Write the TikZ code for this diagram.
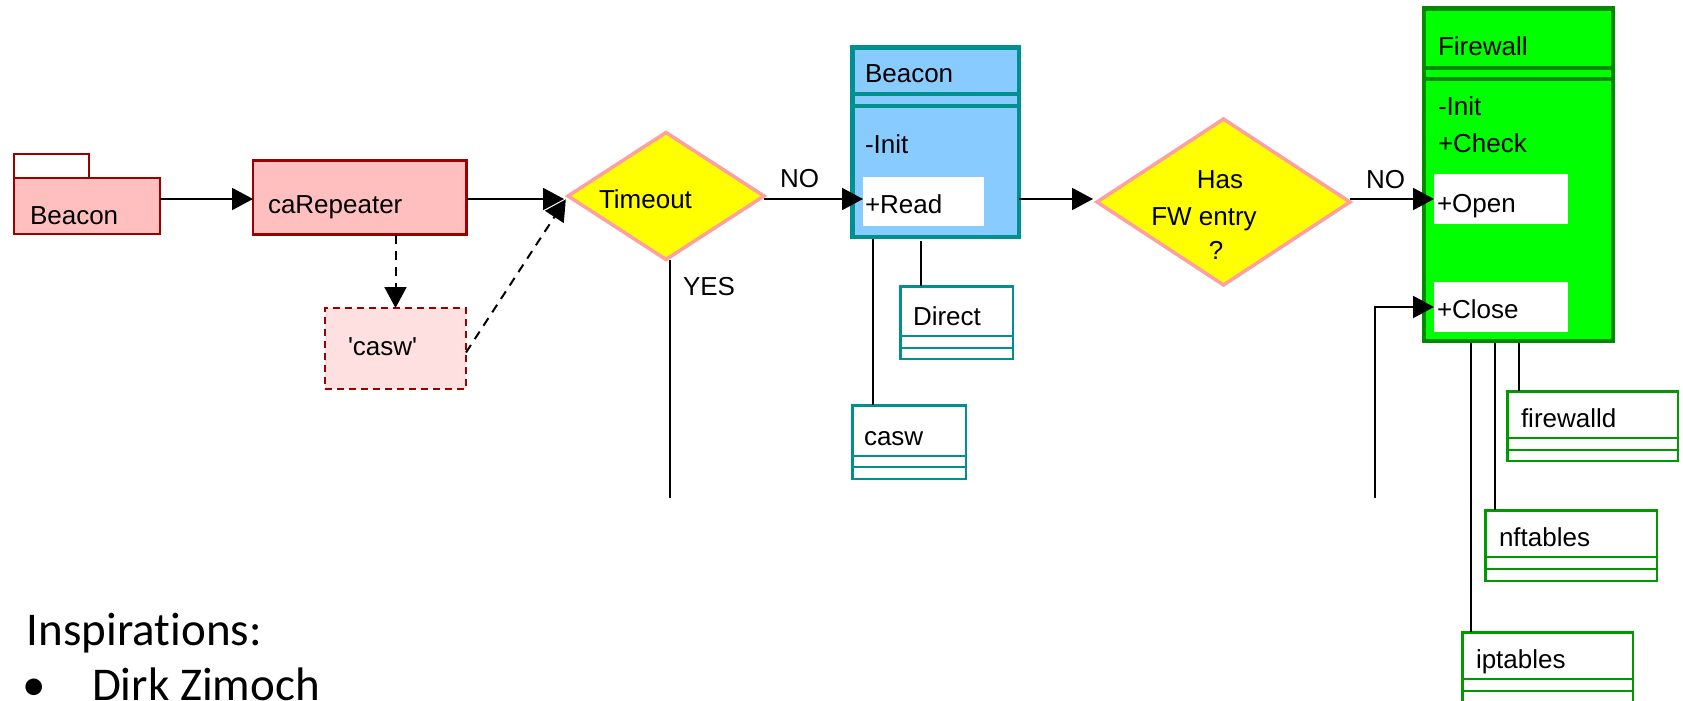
\documentclass[tikz,border=0pt]{standalone}
\usepackage{fontspec}
\setmainfont{Liberation Sans}[Ligatures=TeXOff]
\newfontfamily\calibrifont{Carlito}[Ligatures=NoCommon]
\usetikzlibrary{arrows.meta,shapes.geometric,calc}

\definecolor{pkgline}{HTML}{9B0000}
\definecolor{pkgfill}{HTML}{FFBFBF}
\definecolor{notefill}{HTML}{FFE0E0}
\definecolor{decline}{HTML}{FFA0A0}
\definecolor{decfill}{HTML}{FFFF00}
\definecolor{bluefill}{HTML}{88CCFF}
\definecolor{tealline}{HTML}{009090}
\definecolor{greenfill}{HTML}{00FF00}
\definecolor{greenline}{HTML}{008A00}
\definecolor{subgreen}{HTML}{009A00}

\begin{document}
\begin{tikzpicture}[x=1pt,y=-1pt,
  every node/.style={inner sep=0pt, outer sep=0pt},
  lbl/.style={anchor=base west, font=\fontsize{26}{31}\selectfont},
  clbl/.style={anchor=base, font=\fontsize{26}{31}\selectfont},
  boxnw/.style={rectangle, anchor=north west},
  pinkbox/.style={boxnw, draw=pkgline, fill=pkgfill, line width=2.2pt},
  notebox/.style={boxnw, draw=pkgline, fill=notefill, line width=2.2pt, dash pattern=on 7pt off 5pt},
  decision/.style={diamond, draw=decline, fill=decfill, line width=3.5pt},
  bigclass/.style={boxnw, line width=4.5pt},
  member/.style={boxnw, fill=white},
  subclass/.style={boxnw, fill=white, line width=2.5pt},
  link/.style={draw=black, line width=2pt},
  arr/.style={link, -{Triangle[length=21pt,width=22pt]}},
  dasharr/.style={arr, dash pattern=on 9pt off 7pt},
]
\useasboundingbox (0,0) rectangle (1683,701);

% ---------- package and repeater ----------
\node[pinkbox, fill=white, minimum width=75pt, minimum height=24pt] (pkgtab) at (14,154) {};
\node[pinkbox, minimum width=146pt, minimum height=56pt] (pkg) at (14,178) {};
\node[lbl] (pkg-t) at (30,224) {Beacon};

\node[pinkbox, minimum width=213.5pt, minimum height=74pt] (rep) at (253,160.5) {};
\node[lbl] (rep-t) at (268,213) {caRepeater};

\node[notebox, minimum width=141pt, minimum height=81pt] (caswq) at (325,308) {};
\node[lbl] (caswq-t) at (348,355) {'casw'};

% ---------- first decision ----------
\node[decision, minimum width=196pt, minimum height=127pt] (tmo) at (666,196) {};
\node[lbl] (tmo-t) at (599,208) {Timeout};

% ---------- Beacon class ----------
\node[bigclass, draw=tealline, fill=bluefill, minimum width=166.5pt, minimum height=189.5pt] (bcls) at (852.3,47.3) {};
\draw[tealline, line width=4pt] ($(bcls.north west)+(0,46.4)$) -- ($(bcls.north east)+(0,46.4)$);
\draw[tealline, line width=4pt] ($(bcls.north west)+(0,58.7)$) -- ($(bcls.north east)+(0,58.7)$);
\node[lbl] (bcls-t) at (865,82) {Beacon};
\node[lbl] (bcls-init) at (865,153) {-Init};
\node[member, minimum width=121pt, minimum height=49pt] (read) at (863,177) {};
\node[lbl] (read-t) at (865,213) {+Read};

\node[subclass, draw=tealline, minimum width=112.5pt, minimum height=72.5pt] (direct) at (900.3,286.3) {};
\draw[tealline, line width=2.5pt] ($(direct.north west)+(0,49.7)$) -- ($(direct.north east)+(0,49.7)$);
\draw[tealline, line width=2.5pt] ($(direct.north west)+(0,61.7)$) -- ($(direct.north east)+(0,61.7)$);
\node[lbl] (direct-t) at (913,325) {Direct};

\node[subclass, draw=tealline, minimum width=113.5pt, minimum height=73.5pt] (casw) at (852.3,405.3) {};
\draw[tealline, line width=2.5pt] ($(casw.north west)+(0,50.7)$) -- ($(casw.north east)+(0,50.7)$);
\draw[tealline, line width=2.5pt] ($(casw.north west)+(0,61.7)$) -- ($(casw.north east)+(0,61.7)$);
\node[lbl] (casw-t) at (864,445) {casw};

% ---------- second decision ----------
\node[decision, minimum width=253pt, minimum height=166pt] (has) at (1223.5,202) {};
\node[clbl] (has-t1) at (1220,188) {Has};
\node[clbl] (has-t2) at (1204,225) {FW entry};
\node[clbl] (has-t3) at (1216,259) {?};

% ---------- Firewall class ----------
\node[bigclass, draw=greenline, fill=greenfill, minimum width=189.4pt, minimum height=332.5pt] (fw) at (1423.8,8.3) {};
\draw[greenline, line width=4pt] ($(fw.north west)+(-2,59.4)$) -- ($(fw.north east)+(0,59.4)$);
\draw[greenline, line width=4pt] ($(fw.north west)+(0,71)$) -- ($(fw.north east)+(0,71)$);
\node[lbl] (fw-t) at (1438,56) {Firewall};
\node[lbl] (fw-init) at (1438,115) {-Init};
\node[lbl] (fw-check) at (1438,152) {+Check};
\node[member, minimum width=134pt, minimum height=50pt] (open) at (1434,174) {};
\node[lbl] (open-t) at (1437,212) {+Open};
\node[member, minimum width=134pt, minimum height=50pt] (close) at (1434,282) {};
\node[lbl] (close-t) at (1437,318) {+Close};

\node[subclass, draw=subgreen, minimum width=170.5pt, minimum height=69.5pt] (fwd) at (1507.3,391.3) {};
\draw[subgreen, line width=2.5pt] ($(fwd.north west)+(0,46.7)$) -- ($(fwd.north east)+(0,46.7)$);
\draw[subgreen, line width=2.5pt] ($(fwd.north west)+(0,58.7)$) -- ($(fwd.north east)+(0,58.7)$);
\node[lbl] (fwd-t) at (1521,427) {firewalld};

\node[subclass, draw=subgreen, minimum width=171.5pt, minimum height=70.5pt] (nft) at (1485.3,510.3) {};
\draw[subgreen, line width=2.5pt] ($(nft.north west)+(0,46.7)$) -- ($(nft.north east)+(0,46.7)$);
\draw[subgreen, line width=2.5pt] ($(nft.north west)+(0,58.7)$) -- ($(nft.north east)+(0,58.7)$);
\node[lbl] (nft-t) at (1499,546) {nftables};

\node[subclass, draw=subgreen, minimum width=170.5pt, minimum height=69.5pt] (ipt) at (1462.3,632.3) {};
\draw[subgreen, line width=2.5pt] ($(ipt.north west)+(0,46.7)$) -- ($(ipt.north east)+(0,46.7)$);
\draw[subgreen, line width=2.5pt] ($(ipt.north west)+(0,58.7)$) -- ($(ipt.north east)+(0,58.7)$);
\node[lbl] (ipt-t) at (1476,668) {iptables};

% ---------- connectors ----------
\coordinate (row) at (0,199);
\draw[arr] (pkg.east |- row) -- (rep.west |- row);
\draw[arr, shorten >=4pt] (rep.east |- row) -- (tmo.west |- row);
\draw[dasharr] (rep.south -| caswq.north) -- (caswq.north);
\draw[dasharr, shorten >=4pt] ([yshift=-4pt]caswq.east) -- (tmo.west);

\draw[arr] (tmo.east |- row) -- (read.west |- row);
\node[lbl] (no1) at (780,187) {NO};
\coordinate (yesend) at (670,498);
\draw[link] (yesend |- tmo.south) -- (yesend);
\node[lbl] (yes) at (683,295) {YES};

\draw[arr, shorten >=4pt] (bcls.east |- row) -- (has.west |- row);
\draw[arr] (has.east |- row) -- (open.west |- row);
\node[lbl] (no2) at (1366,188) {NO};

\coordinate (closefoot) at (1375,498);
\draw[arr] (closefoot) |- (close.west);

\coordinate (bx1) at (873,0);
\coordinate (bx2) at (921,0);
\draw[link, shorten <=2.3pt] (bx1 |- bcls.south) -- (bx1 |- casw.north);
\draw[link, shorten <=4pt] (bx2 |- bcls.south) -- (bx2 |- direct.north);

\coordinate (fx1) at (1471,0);
\coordinate (fx2) at (1495,0);
\coordinate (fx3) at (1519,0);
\draw[link, shorten <=2.3pt] (fx1 |- fw.south) -- (fx1 |- ipt.north);
\draw[link, shorten <=2.3pt] (fx2 |- fw.south) -- (fx2 |- nft.north);
\draw[link, shorten <=2.3pt] (fx3 |- fw.south) -- (fx3 |- fwd.north);

% ---------- credits ----------
\node[anchor=base west, font=\calibrifont\fontsize{47}{56}\selectfont] (insp) at (27,645) {Inspirations:};
\node[anchor=base west, font=\calibrifont\fontsize{47}{56}\selectfont] (bul) at (22,700) {•};
\node[anchor=base west, font=\calibrifont\fontsize{47}{56}\selectfont] (dirk) at (92,700) {Dirk Zimoch};
\end{tikzpicture}
\end{document}
